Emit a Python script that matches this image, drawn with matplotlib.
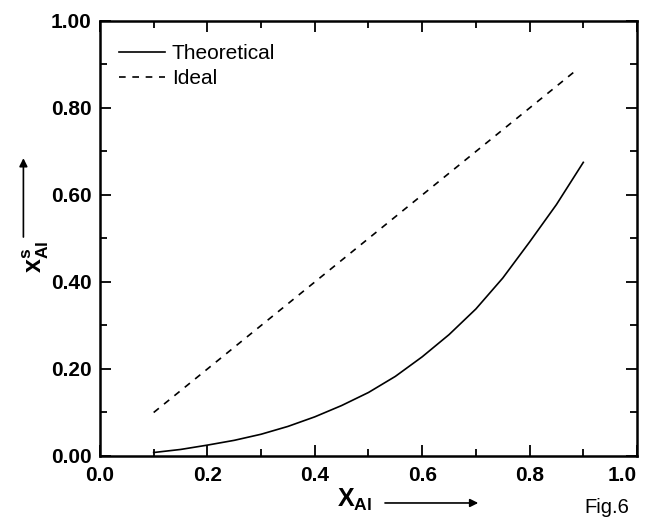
import numpy as np
import matplotlib
matplotlib.use('Agg')
import matplotlib.pyplot as plt
from matplotlib.ticker import MultipleLocator, FormatStrFormatter

plt.rcParams['font.family'] = ['Liberation Sans', 'DejaVu Sans']
plt.rcParams['mathtext.fontset'] = 'custom'
plt.rcParams['mathtext.rm'] = 'Liberation Sans'
plt.rcParams['mathtext.bf'] = 'Liberation Sans:bold'

# data
x_theo = [0.10, 0.15, 0.20, 0.25, 0.30, 0.35, 0.40, 0.45, 0.50,
          0.55, 0.60, 0.65, 0.70, 0.75, 0.80, 0.85, 0.90]
y_theo = [0.008, 0.015, 0.025, 0.036, 0.050, 0.068, 0.090, 0.116, 0.146,
          0.183, 0.228, 0.279, 0.338, 0.409, 0.492, 0.578, 0.675]
x_ideal = [0.10, 0.89]
y_ideal = [0.10, 0.89]
x_ticks = [0.0, 0.2, 0.4, 0.6, 0.8, 1.0]
y_ticks = [0.0, 0.2, 0.4, 0.6, 0.8, 1.0]

fig = plt.figure(figsize=(6.5, 5.18), dpi=100)
ax = fig.add_axes([0.1538, 0.1197, 0.8262, 0.8398])

ax.plot(x_theo, y_theo, color='black', lw=1.2, label='Theoretical')
ax.plot(x_ideal, y_ideal, color='black', lw=1.2, ls=(0, (4, 4)), label='Ideal')

ax.set_xlim(0, 1.0)
ax.set_ylim(0, 1.0)
ax.set_xticks(x_ticks)
ax.set_yticks(y_ticks)
ax.xaxis.set_minor_locator(MultipleLocator(0.1))
ax.yaxis.set_minor_locator(MultipleLocator(0.1))
ax.xaxis.set_major_formatter(FormatStrFormatter('%.1f'))
ax.yaxis.set_major_formatter(FormatStrFormatter('%.2f'))

for s in ax.spines.values():
    s.set_linewidth(1.8)
ax.tick_params(which='both', direction='in', top=True, right=True, width=1.3)
ax.tick_params(which='major', length=8, labelsize=15)
ax.tick_params(which='minor', length=5)
ax.tick_params(axis='x', pad=7)
ax.tick_params(axis='y', pad=6)

ax.legend(loc='upper left', frameon=False, fontsize=15, handlelength=2.2,
          handletextpad=0.35, labelspacing=0.3, borderaxespad=0.5,
          bbox_to_anchor=(0.0, 0.99))

# axis labels with arrows
fig.text(0.055, 0.505, r'$\mathbf{x}^{\mathbf{s}}_{\mathbf{Al}}$', rotation=90,
         ha='center', va='center', fontsize=18)
fig.patches.append(matplotlib.patches.FancyArrowPatch(
    (0.036, 0.537), (0.036, 0.70), transform=fig.transFigure,
    arrowstyle='-|>', mutation_scale=12, color='black', lw=1.2))

fig.text(0.545, 0.035, r'$\mathbf{X}_{\mathbf{Al}}$', ha='center', va='center',
         fontsize=18)
fig.patches.append(matplotlib.patches.FancyArrowPatch(
    (0.588, 0.029), (0.74, 0.029), transform=fig.transFigure,
    arrowstyle='-|>', mutation_scale=12, color='black', lw=1.2))

fig.text(0.933, 0.02, 'Fig.6', ha='center', va='center', fontsize=14.5)

# draw once so the ticks exist, then make labels bold and keep "1.0" inside
fig.canvas.draw()
for lab in ax.get_xticklabels() + ax.get_yticklabels():
    lab.set_fontweight('bold')
for t in ax.xaxis.get_major_ticks():
    if abs(t.get_loc() - 1.0) < 1e-9:
        t.label1.set_horizontalalignment('right')

fig.savefig('out.png', dpi=100)
